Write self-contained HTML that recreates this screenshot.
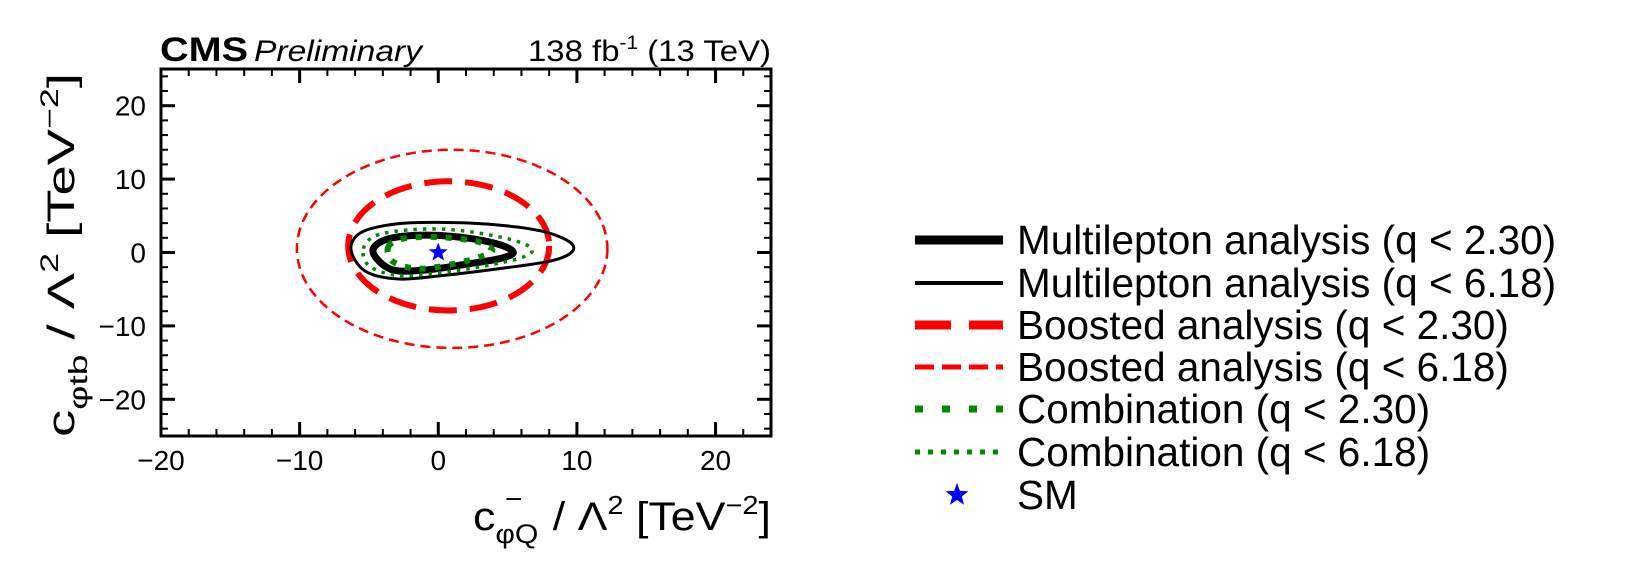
<!DOCTYPE html>
<html><head><meta charset="utf-8"><style>
html,body{margin:0;padding:0;background:#fff;}
svg{display:block;font-family:"Liberation Sans",sans-serif;}
</style></head><body>
<svg id="chart" width="1629" height="586" viewBox="0 0 1629 586" xmlns="http://www.w3.org/2000/svg">
<rect width="1629" height="586" fill="#fff"/>
<g id="plot"></g>
<g id="axes"></g>
<text x="160" y="61" font-size="34" font-weight="bold" textLength="88" lengthAdjust="spacingAndGlyphs">CMS</text>
<text x="254" y="61" font-size="30" font-style="italic" textLength="168" lengthAdjust="spacingAndGlyphs">Preliminary</text>
<text x="528" y="61" font-size="30" textLength="243" lengthAdjust="spacingAndGlyphs">138 fb<tspan font-size="19" dy="-12">-1</tspan><tspan dy="12"> (13 TeV)</tspan></text>
<text x="473" y="530" font-size="40" textLength="298" lengthAdjust="spacingAndGlyphs">c<tspan font-size="27" dy="13">φQ</tspan><tspan font-size="27" dx="-30" dy="-35">−</tspan><tspan font-size="40" dx="16" dy="22"> / Λ</tspan><tspan font-size="26" dy="-16">2</tspan><tspan dy="16"> [TeV</tspan><tspan font-size="26" dy="-16">−2</tspan><tspan dy="16">]</tspan></text>
<text transform="translate(74,255) rotate(-90)" text-anchor="middle" font-size="38" textLength="364" lengthAdjust="spacingAndGlyphs">c<tspan font-size="26" dy="13">φtb</tspan><tspan dy="-13"> / Λ</tspan><tspan font-size="25" dy="-16">2</tspan><tspan dy="16"> [TeV</tspan><tspan font-size="25" dy="-16">−2</tspan><tspan dy="16">]</tspan></text>
<g id="legend"></g>
</svg>
<script>
const xTicks = [-20,-10,0,10,20];
const yTicks = [-20,-10,0,10,20];
const xDomain = [-20,24];
const yDomain = [-25,25];
// ellipses: [cx, cy, rx, ry]
const boosted618 = [1.0, 0.5, 11.2, 13.5];
const boosted230 = [0.75, 0.9, 7.25, 8.8];
const sm = [0, 0];
const ml618 = [[-6.3,0.5],[-5.5,2.8],[-3,3.9],[0,4.1],[4,3.8],[7.5,2.9],[9.5,1.4],[9.6,0],[8,-1.2],[4,-2.3],[0,-3.2],[-3,-3.6],[-5.3,-2.5]];
const ml230 = [[-4.7,0],[-4,1.6],[-2,2.3],[1,2.2],[4,1.3],[5.4,0.1],[4.5,-0.8],[2,-1.6],[-1,-2.4],[-3.4,-2.3]];
const comb230 = [[-3.6,0.8],[-2.5,1.9],[0,2.1],[2.8,1.5],[3.9,0.3],[3,-0.6],[1,-1.6],[-1.5,-2.2],[-3.3,-1.2]];
const comb618 = [[-5.4,0.5],[-4.5,2.3],[-2,3.1],[1,3.1],[4.5,2.1],[6.6,0.8],[6.4,-0.4],[4,-1.6],[0,-2.8],[-3,-3.1],[-5,-1.8]];
const legendLabels = ["Multilepton analysis (q < 2.30)","Multilepton analysis (q < 6.18)","Boosted analysis (q < 2.30)","Boosted analysis (q < 6.18)","Combination (q < 2.30)","Combination (q < 6.18)","SM"];

const L=161,R=771,T=69,B=436;
const sx=v=>L+(v-xDomain[0])/(xDomain[1]-xDomain[0])*(R-L);
const sy=v=>B-(v-yDomain[0])/(yDomain[1]-yDomain[0])*(B-T);
const NS="http://www.w3.org/2000/svg";
function mk(tag,attrs,parent){const e=document.createElementNS(NS,tag);for(const k in attrs)e.setAttribute(k,attrs[k]);parent.appendChild(e);return e;}
const plot=document.getElementById('plot'),axes=document.getElementById('axes'),leg=document.getElementById('legend');

function smooth(pts){
  const p=pts.map(q=>[sx(q[0]),sy(q[1])]);const n=p.length;let d=`M${p[0][0]},${p[0][1]}`;
  for(let i=0;i<n;i++){const p0=p[(i-1+n)%n],p1=p[i],p2=p[(i+1)%n],p3=p[(i+2)%n];
    const c1=[p1[0]+(p2[0]-p0[0])/6,p1[1]+(p2[1]-p0[1])/6],c2=[p2[0]-(p3[0]-p1[0])/6,p2[1]-(p3[1]-p1[1])/6];
    d+=`C${c1[0]},${c1[1]} ${c2[0]},${c2[1]} ${p2[0]},${p2[1]}`;}
  return d+'Z';
}
function ell(e,style,name){
  const el=mk('ellipse',Object.assign({cx:sx(e[0]),cy:sy(e[1]),rx:e[2]*(R-L)/(xDomain[1]-xDomain[0]),ry:e[3]*(B-T)/(yDomain[1]-yDomain[0]),fill:'none'},style),plot);
  
  
}
ell(boosted618,{stroke:'#f00','stroke-width':2.5,'stroke-dasharray':'10 6'},'boosted-contour-618');
ell(boosted230,{stroke:'#f00','stroke-width':6,'stroke-dasharray':'28 13'},'boosted-contour-230');
function cont(pts,style,name){
  const el=mk('path',Object.assign({d:smooth(pts),fill:'none'},style),plot);
  
  
}
cont(ml618,{stroke:'#000','stroke-width':3},'multilepton-contour-618');
cont(ml230,{stroke:'#000','stroke-width':7},'multilepton-contour-230');
cont(comb618,{stroke:'#080','stroke-width':3.5,'stroke-dasharray':'3.5 6'},'combination-contour-618');
cont(comb230,{stroke:'#080','stroke-width':6,'stroke-dasharray':'6 9'},'combination-contour-230');
function star(cx,cy,r){let d='';for(let i=0;i<10;i++){const a=-Math.PI/2+i*Math.PI/5,rr=i%2?r*0.42:r;d+=(i?'L':'M')+(cx+rr*Math.cos(a))+','+(cy+rr*Math.sin(a));}return d+'Z';}
const smEl=mk('path',{d:star(sx(sm[0]),sy(sm[1]),10),fill:'#00f'},plot);



const frame=mk('rect',{x:L,y:T,width:R-L,height:B-T,fill:'none',stroke:'#000','stroke-width':3},axes);


for(let v=-20;v<=24;v+=2){const maj=v%10===0,len=maj?14:7,x=sx(v);
  mk('line',{x1:x,x2:x,y1:B,y2:B-len,stroke:'#000','stroke-width':maj?3:2},axes);
  mk('line',{x1:x,x2:x,y1:T,y2:T+len,stroke:'#000','stroke-width':maj?3:2},axes);}
for(let v=-24;v<=24;v+=2){const maj=v%10===0,len=maj?14:7,y=sy(v);
  mk('line',{x1:L,x2:L+len,y1:y,y2:y,stroke:'#000','stroke-width':maj?3:2},axes);
  mk('line',{x1:R,x2:R-len,y1:y,y2:y,stroke:'#000','stroke-width':maj?3:2},axes);}
const fmt=v=>v<0?'−'+(-v):''+v;
xTicks.forEach(v=>{const t=mk('text',{x:sx(v),y:B+34,'font-size':28,'text-anchor':'middle'},axes);t.textContent=fmt(v);
  
  });
yTicks.forEach(v=>{const t=mk('text',{x:L-15,y:sy(v)+10,'font-size':28,'text-anchor':'end'},axes);t.textContent=fmt(v);
  
  });

const styles=[{stroke:'#000','stroke-width':9},{stroke:'#000','stroke-width':4},{stroke:'#f00','stroke-width':9,'stroke-dasharray':'36 18'},{stroke:'#f00','stroke-width':5,'stroke-dasharray':'19 8'},{stroke:'#080','stroke-width':7,'stroke-dasharray':'8 19'},{stroke:'#080','stroke-width':5,'stroke-dasharray':'5 8'}];
const rowY=[240,283,325,367,409,452,495];
legendLabels.forEach((lab,i)=>{const y=rowY[i];
  if(i<6){const ln=mk('line',Object.assign({x1:915,x2:1003,y1:y,y2:y},styles[i]),leg);
    
    }
  else{const s=mk('path',{d:star(957,y,12),fill:'#00f'},leg);
    
    }
  const t=mk('text',{x:1017,y:y+14,'font-size':40.5},leg);t.textContent=lab;
  
  });
</script>
</body></html>
